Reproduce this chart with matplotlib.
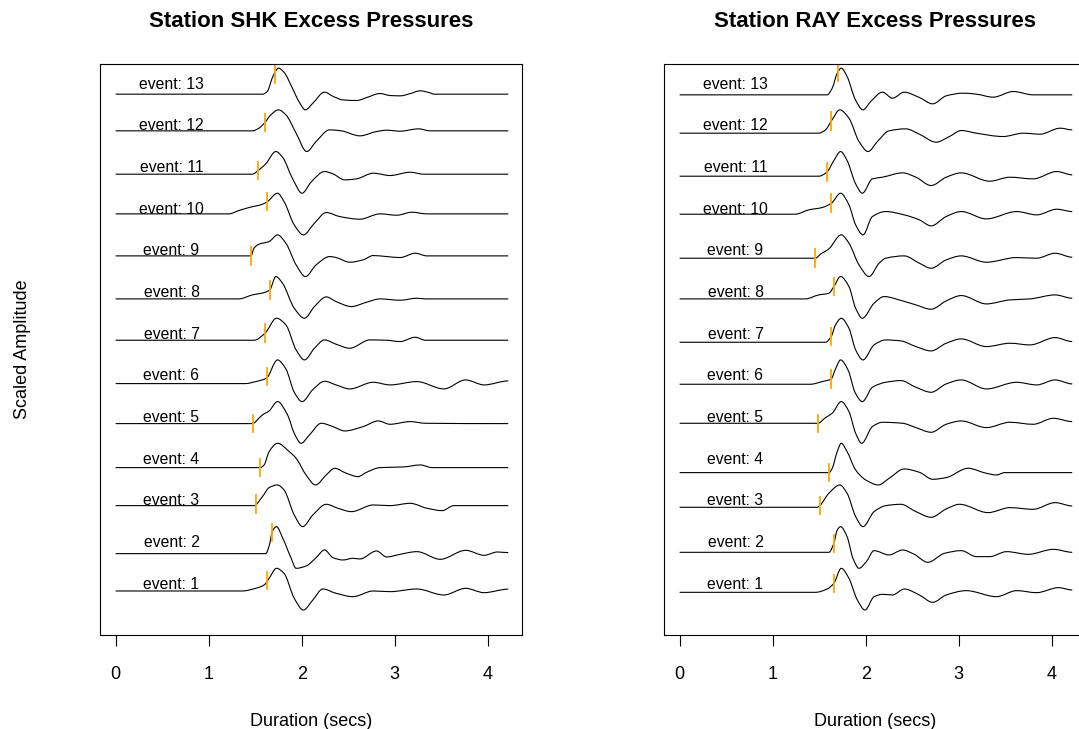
import numpy as np
import matplotlib.pyplot as plt
from matplotlib.path import Path
from matplotlib.patches import PathPatch

# scaled traces, (time in secs, amplitude scaled 0..1), one list per event
shk_1 = [(0, .456), (1.36, .456), (1.505, .52), (1.596, .60), (1.65, .76), (1.729, 1.0), (1.81, .88), (1.92, .28),
         (2.018, 0), (2.12, .24), (2.227, .504), (2.37, .40), (2.55, .32), (2.769, .456), (2.949, .44), (3.238, .504),
         (3.527, .36), (3.762, .52), (3.96, .416), (4.22, .50)]
shk_2 = [(0, .352), (1.614, .352), (1.65, .536), (1.686, .896), (1.729, 1.0), (1.794, .736), (1.884, .256), (1.94, 0),
         (2.047, .056), (2.155, .256), (2.245, .44), (2.336, .256), (2.444, .20), (2.55, .24), (2.625, .224),
         (2.805, .416), (2.913, .272), (3.058, .336), (3.238, .40), (3.49, .216), (3.762, .432), (3.96, .312),
         (4.105, .392), (4.22, .376)]
shk_3 = [(0, .504), (1.487, .504), (1.578, .72), (1.65, .936), (1.74, 1.0), (1.81, .88), (1.92, .28), (2.01, 0),
         (2.12, .28), (2.264, .536), (2.39, .44), (2.534, .36), (2.769, .52), (2.949, .504), (3.166, .56),
         (3.347, .44), (3.51, .384), (3.635, .504), (4.22, .504)]
shk_4 = [(0, .416), (1.556, .416), (1.596, .48), (1.65, .80), (1.74, 1.0), (1.866, .80), (1.94, .64), (2.047, .24),
         (2.148, 0), (2.264, .24), (2.354, .40), (2.48, .28), (2.606, .20), (2.697, .304), (2.841, .416),
         (3.094, .432), (3.274, .48), (3.40, .416), (4.22, .416)]
shk_5 = [(0, .472), (1.45, .472), (1.48, .48), (1.54, .60), (1.578, .68), (1.65, .776), (1.74, 1.0), (1.848, .68),
         (1.92, .24), (1.993, 0), (2.083, .20), (2.21, .48), (2.336, .40), (2.462, .296), (2.66, .40), (2.823, .536),
         (2.949, .456), (3.166, .52), (3.33, .48), (4.22, .472)]
shk_6 = [(0, .432), (1.397, .432), (1.505, .48), (1.62, .56), (1.74, 1.0), (1.83, .784), (1.92, .224), (2.004, 0),
         (2.12, .288), (2.245, .488), (2.37, .40), (2.516, .304), (2.769, .464), (2.949, .40), (3.238, .48),
         (3.527, .304), (3.762, .52), (3.96, .40), (4.22, .496)]
shk_7 = [(0, .472), (1.487, .472), (1.606, .64), (1.729, 1.0), (1.83, .84), (1.94, .24), (2.03, 0), (2.137, .28),
         (2.245, .48), (2.37, .376), (2.516, .28), (2.733, .48), (2.913, .472), (3.058, .44), (3.22, .544),
         (3.33, .472), (4.22, .472)]
shk_8 = [(0, .464), (1.325, .464), (1.47, .56), (1.596, .616), (1.657, .68), (1.722, 1.0), (1.794, .84), (1.92, .24),
         (2.03, 0), (2.137, .28), (2.264, .512), (2.37, .40), (2.534, .28), (2.697, .384), (2.841, .464),
         (3.058, .432), (3.238, .48), (3.33, .464), (4.22, .464)]
shk_9 = [(0, .496), (1.455, .496), (1.487, .68), (1.54, .776), (1.65, .84), (1.74, 1.0), (1.83, .80), (1.94, .28),
         (2.04, 0), (2.155, .28), (2.30, .48), (2.37, .456), (2.516, .344), (2.66, .40), (2.769, .504), (2.913, .48),
         (3.058, .456), (3.22, .56), (3.347, .496), (4.22, .496)]
shk_10 = [(0, .504), (1.217, .504), (1.325, .584), (1.433, .656), (1.578, .736), (1.632, .80), (1.74, 1.0), (1.81, .80),
          (1.92, .24), (2.018, 0), (2.137, .28), (2.264, .536), (2.408, .44), (2.625, .376), (2.841, .504),
          (3.022, .472), (3.184, .544), (3.347, .504), (4.22, .504)]
shk_11 = [(0, .456), (1.47, .456), (1.531, .544), (1.614, .704), (1.722, 1.0), (1.794, .864), (1.903, .344), (2.004, 0),
          (2.10, .264), (2.245, .52), (2.336, .464), (2.462, .32), (2.588, .344), (2.769, .48), (2.949, .424),
          (3.166, .504), (3.31, .456), (4.22, .456)]
shk_12 = [(0, .496), (1.47, .496), (1.54, .56), (1.606, .70), (1.668, .88), (1.751, 1.0), (1.83, .88), (1.94, .44),
          (2.054, 0), (2.155, .24), (2.30, .52), (2.426, .496), (2.625, .376), (2.805, .48), (2.913, .512),
          (3.058, .488), (3.256, .544), (3.383, .496), (4.22, .496)]
shk_13 = [(0, .376), (1.58, .376), (1.63, .44), (1.69, .80), (1.75, 1.0), (1.81, .90), (1.90, .52), (1.97, .20),
          (2.04, 0), (2.12, .16), (2.245, .424), (2.34, .32), (2.44, .24), (2.59, .224), (2.70, .296), (2.84, .392),
          (2.95, .344), (3.06, .336), (3.17, .392), (3.27, .456), (3.38, .408), (3.42, .376), (4.22, .376)]

ray_1 = [(0, .424), (1.459, .424), (1.586, .504), (1.658, .64), (1.737, 1.0), (1.82, .76), (1.91, .24), (1.993, 0),
         (2.09, .32), (2.18, .376), (2.288, .36), (2.414, .504), (2.577, .36), (2.72, .184), (2.865, .36),
         (3.081, .464), (3.405, .32), (3.622, .464), (3.838, .416), (4.072, .536), (4.22, .48)]
ray_2 = [(0, .384), (1.604, .384), (1.658, .60), (1.694, .92), (1.73, 1.0), (1.80, .76), (1.863, .24), (1.928, 0),
         (2.007, .16), (2.09, .424), (2.25, .32), (2.396, .44), (2.522, .336), (2.667, .144), (2.847, .36),
         (3.027, .424), (3.19, .28), (3.333, .28), (3.514, .40), (3.748, .336), (4.018, .456), (4.22, .384)]
ray_3 = [(0, .464), (1.477, .464), (1.506, .504), (1.604, .80), (1.722, 1.0), (1.80, .80), (1.892, .24), (1.971, 0),
         (2.09, .36), (2.216, .504), (2.378, .536), (2.54, .36), (2.703, .224), (2.865, .424), (3.009, .536),
         (3.315, .336), (3.55, .456), (3.80, .416), (4.036, .576), (4.22, .496)]
ray_4 = [(0, .296), (1.607, .296), (1.64, .40), (1.694, .80), (1.737, 1.0), (1.80, .80), (1.892, .36), (2.0, .12),
         (2.137, 0), (2.252, .16), (2.414, .384), (2.577, .304), (2.72, .136), (2.865, .176), (3.10, .40),
         (3.297, .28), (3.405, .24), (3.495, .296), (4.22, .296)]
ray_5 = [(0, .48), (1.485, .48), (1.568, .616), (1.64, .72), (1.737, 1.0), (1.82, .76), (1.892, .24), (1.957, 0),
         (2.072, .40), (2.18, .504), (2.396, .48), (2.54, .376), (2.703, .264), (2.865, .456), (3.027, .536),
         (3.297, .376), (3.55, .504), (3.80, .456), (4.018, .60), (4.22, .52)]
ray_6 = [(0, .416), (1.405, .416), (1.532, .48), (1.629, .544), (1.676, .784), (1.73, 1.0), (1.813, .744),
         (1.885, .224), (1.964, 0), (2.072, .344), (2.216, .464), (2.378, .504), (2.54, .344), (2.703, .224),
         (2.865, .424), (3.027, .52), (3.297, .304), (3.622, .464), (3.838, .40), (4.036, .52), (4.22, .424)]
ray_7 = [(0, .424), (1.568, .424), (1.629, .56), (1.676, .84), (1.737, 1.0), (1.82, .76), (1.892, .24), (1.971, 0),
         (2.09, .36), (2.216, .48), (2.378, .456), (2.54, .32), (2.703, .216), (2.865, .40), (3.027, .504),
         (3.297, .32), (3.55, .40), (3.766, .36), (4.036, .536), (4.22, .44)]
ray_8 = [(0, .464), (1.351, .464), (1.495, .56), (1.604, .60), (1.658, .76), (1.73, 1.0), (1.82, .76), (1.892, .24),
         (1.964, 0), (2.09, .36), (2.198, .52), (2.396, .416), (2.54, .32), (2.703, .216), (2.865, .416),
         (3.027, .544), (3.297, .344), (3.55, .44), (3.766, .464), (4.036, .56), (4.22, .48)]
ray_9 = [(0, .44), (1.459, .44), (1.514, .536), (1.604, .664), (1.737, 1.0), (1.82, .80), (1.928, .28), (2.036, 0),
         (2.144, .32), (2.216, .44), (2.414, .496), (2.577, .32), (2.703, .20), (2.865, .40), (3.027, .496),
         (3.297, .344), (3.622, .456), (3.838, .44), (4.036, .56), (4.22, .464)]
ray_10 = [(0, .496), (1.243, .496), (1.387, .60), (1.532, .656), (1.632, .76), (1.73, 1.0), (1.82, .72), (1.892, .24),
          (1.971, 0), (2.072, .44), (2.216, .56), (2.414, .48), (2.577, .36), (2.703, .216), (2.865, .44),
          (3.027, .56), (3.297, .384), (3.622, .56), (3.838, .48), (4.054, .616), (4.22, .56)]
ray_11 = [(0, .408), (1.495, .408), (1.582, .504), (1.658, .784), (1.73, 1.0), (1.80, .784), (1.892, .224), (1.964, 0),
          (2.072, .344), (2.18, .384), (2.396, .488), (2.54, .384), (2.703, .184), (2.865, .384), (3.027, .488),
          (3.333, .288), (3.55, .384), (3.80, .344), (4.054, .52), (4.22, .44)]
ray_12 = [(0, .44), (1.495, .44), (1.568, .52), (1.632, .736), (1.722, 1.0), (1.82, .80), (1.928, .24), (2.025, 0),
          (2.126, .24), (2.25, .496), (2.43, .544), (2.577, .416), (2.757, .224), (2.90, .36), (3.027, .504),
          (3.19, .44), (3.477, .36), (3.694, .44), (3.874, .416), (4.09, .56), (4.22, .52)]
ray_13 = [(0, .36), (1.586, .36), (1.64, .52), (1.694, .88), (1.737, 1.0), (1.80, .80), (1.89, .24), (1.971, 0),
          (2.054, .20), (2.18, .424), (2.288, .28), (2.414, .424), (2.577, .296), (2.72, .144), (2.865, .336),
          (3.045, .40), (3.19, .376), (3.37, .304), (3.586, .44), (3.80, .36), (4.22, .36)]

# arrival picks (secs), events 1..13
shk_picks = [1.632, 1.682, 1.505, 1.556, 1.480, 1.632, 1.606, 1.657, 1.455, 1.632, 1.531, 1.606, 1.708]
ray_picks = [1.658, 1.658, 1.506, 1.607, 1.485, 1.629, 1.629, 1.658, 1.459, 1.632, 1.582, 1.632, 1.705]

shk_events = [shk_1, shk_2, shk_3, shk_4, shk_5, shk_6, shk_7, shk_8, shk_9, shk_10, shk_11, shk_12, shk_13]
ray_events = [ray_1, ray_2, ray_3, ray_4, ray_5, ray_6, ray_7, ray_8, ray_9, ray_10, ray_11, ray_12, ray_13]

plt.rcParams['font.family'] = ['Liberation Sans', 'DejaVu Sans']

fig = plt.figure(figsize=(10.79, 7.29), dpi=100)
ax1 = fig.add_axes([100/1079, 94/729, 422/1079, 571/729])
ax2 = fig.add_axes([664/1079, 94/729, 422/1079, 571/729])


def curve_path(t, y):
    # bezier path through the read points (monotone tangents, no overshoot)
    h = np.diff(t)
    d = np.diff(y) / h
    m = np.zeros_like(y)
    for i in range(1, len(y) - 1):
        if d[i - 1] * d[i] > 0:
            w1 = 2 * h[i] + h[i - 1]
            w2 = h[i] + 2 * h[i - 1]
            m[i] = (w1 + w2) / (w1 / d[i - 1] + w2 / d[i])
    verts = [(t[0], y[0])]
    codes = [Path.MOVETO]
    for i in range(len(h)):
        verts += [(t[i] + h[i] / 3, y[i] + m[i] * h[i] / 3),
                  (t[i + 1] - h[i] / 3, y[i + 1] - m[i + 1] * h[i] / 3),
                  (t[i + 1], y[i + 1])]
        codes += [Path.CURVE4] * 3
    return Path(verts, codes)


def draw_panel(ax, events, picks, title):
    for k, (ev, pk) in enumerate(zip(events, picks), start=1):
        t = np.array([p[0] for p in ev], dtype=float)
        a = np.array([p[1] for p in ev], dtype=float)
        ax.add_patch(PathPatch(curve_path(t, a + k), fill=False, edgecolor='black', lw=0.8))
        yc = np.interp(pk, t, a) + k
        ax.plot([pk, pk], [yc - 0.21, yc + 0.21], color='orange', lw=1.3)
        ax.text(0.6, k + 0.62, f'event: {k}', ha='center', va='center', fontsize=11.3)
    ax.set_xlim(-0.168, 4.368)
    ax.set_ylim(0.40, 14.10)
    ax.set_xticks([0, 1, 2, 3, 4])
    ax.set_yticks([])
    ax.tick_params(axis='x', length=8, width=0.8, pad=14.5, labelsize=13)
    for s in ax.spines.values():
        s.set_linewidth(0.8)
    ax.set_title(title, fontsize=16, fontweight='bold', pad=27)
    ax.set_xlabel('Duration (secs)', fontsize=13, labelpad=21.5)


draw_panel(ax1, shk_events, shk_picks, 'Station SHK Excess Pressures')
draw_panel(ax2, ray_events, ray_picks, 'Station RAY Excess Pressures')

ax1.set_ylabel('Scaled Amplitude', fontsize=13)
ax1.yaxis.set_label_coords(-0.163, 0.5)

fig.savefig('out.png', dpi=100)
